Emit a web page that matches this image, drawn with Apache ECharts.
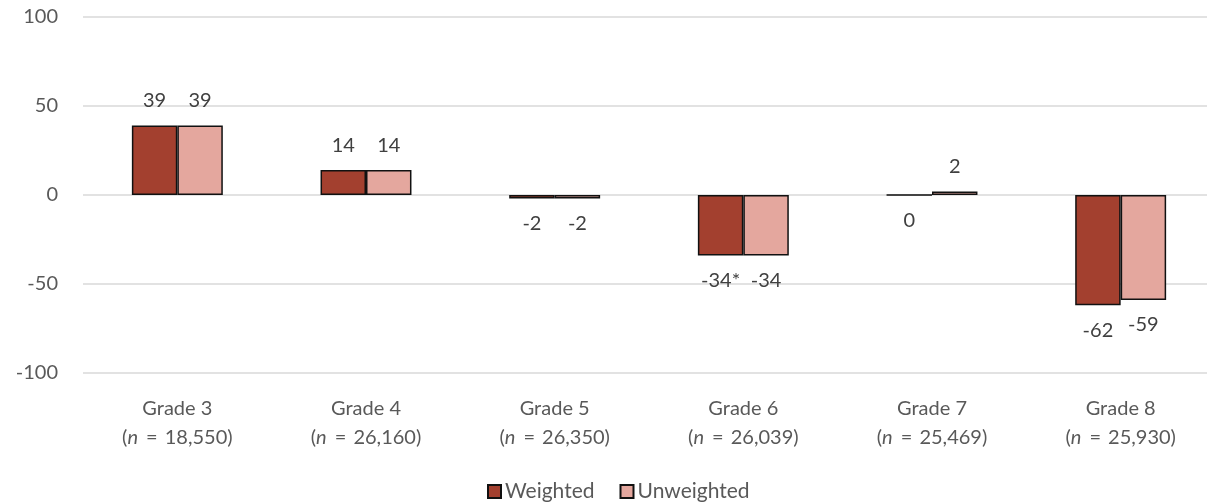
<!DOCTYPE html>
<html>
<head>
<meta charset="utf-8">
<script src="https://cdn.jsdelivr.net/npm/echarts@6/dist/echarts.min.js"></script>
<style>
  html, body { margin: 0; padding: 0; background: #fff; }
  #chart { width: 1207px; height: 503px; }
</style>
</head>
<body>
<div id="chart"></div>
<script>
// Score change by grade, weighted vs. unweighted
const grades = ['Grade 3', 'Grade 4', 'Grade 5', 'Grade 6', 'Grade 7', 'Grade 8'];
const sampleSizes = ['18,550', '26,160', '26,350', '26,039', '25,469', '25,930'];
const weighted = [39, 14, -2, -34, 0, -62];
const unweighted = [39, 14, -2, -34, 2, -59];
// statistically significant differences are marked with an asterisk
const weightedSignificant = [false, false, false, true, false, false];
const yTicks = [-100, -50, 0, 50, 100];

const FONT = 'Lato, "Open Sans", sans-serif';
const TEXT = '#404040';
const AXIS_TEXT = '#595959';
const FS = 20;

function barData(values, flags) {
  return values.map((v, i) => ({
    value: v,
    label: {
      position: v > 0 ? 'top' : 'bottom',
      formatter: String(v) + (flags && flags[i] ? '*' : '')
    }
  }));
}

const axisRich = (extra) => Object.assign(
  { fontSize: FS, color: AXIS_TEXT, fontFamily: FONT, lineHeight: 29 }, extra || {});

const chart = echarts.init(document.getElementById('chart'));
chart.setOption({
  animation: false,
  textStyle: { fontFamily: FONT },
  grid: {
    left: 83, width: 1132, top: 17, bottom: 130,
    containLabel: false,
    outerBoundsMode: 'none'
  },
  legend: {
    top: 476,
    left: 482,
    itemWidth: 13,
    itemHeight: 13,
    itemGap: 25,
    icon: 'rect',
    textStyle: { fontSize: 21, color: AXIS_TEXT, fontFamily: FONT, padding: [0, 0, 0, -1] },
    data: ['Weighted', 'Unweighted']
  },
  xAxis: {
    type: 'category',
    data: grades,
    axisLine: { show: false },
    axisTick: { show: false },
    axisLabel: {
      margin: 21,
      interval: 0,
      formatter: (g, i) => '{g|' + g + '}\n{p|(}{n|n} {e|=} {p|' + sampleSizes[i] + ')}',
      rich: {
        g: axisRich(),
        p: axisRich(),
        e: axisRich({ padding: [0, 4, 0, 5] }),
        n: axisRich({ fontStyle: 'italic' })
      }
    }
  },
  yAxis: {
    type: 'value',
    min: yTicks[0],
    max: yTicks[yTicks.length - 1],
    interval: 50,
    axisLine: { show: false },
    axisTick: { show: false },
    axisLabel: { fontSize: FS, color: AXIS_TEXT, margin: 25, fontFamily: FONT },
    splitLine: { lineStyle: { color: '#d9d9d9', width: 1.5 } }
  },
  series: [
    {
      name: 'Weighted',
      type: 'bar',
      barWidth: '24.1%',
      barGap: '0%',
      data: barData(weighted, weightedSignificant),
      itemStyle: { color: '#a3402f', borderColor: '#111', borderWidth: 1.5 },
      label: { show: true, distance: 15, fontSize: FS, color: TEXT, fontFamily: FONT }
    },
    {
      name: 'Unweighted',
      type: 'bar',
      barWidth: '24.1%',
      barGap: '0%',
      data: barData(unweighted, null),
      itemStyle: { color: '#e4a79e', borderColor: '#111', borderWidth: 1.5 },
      label: { show: true, distance: 15, fontSize: FS, color: TEXT, fontFamily: FONT }
    }
  ]
});
</script>
</body>
</html>
